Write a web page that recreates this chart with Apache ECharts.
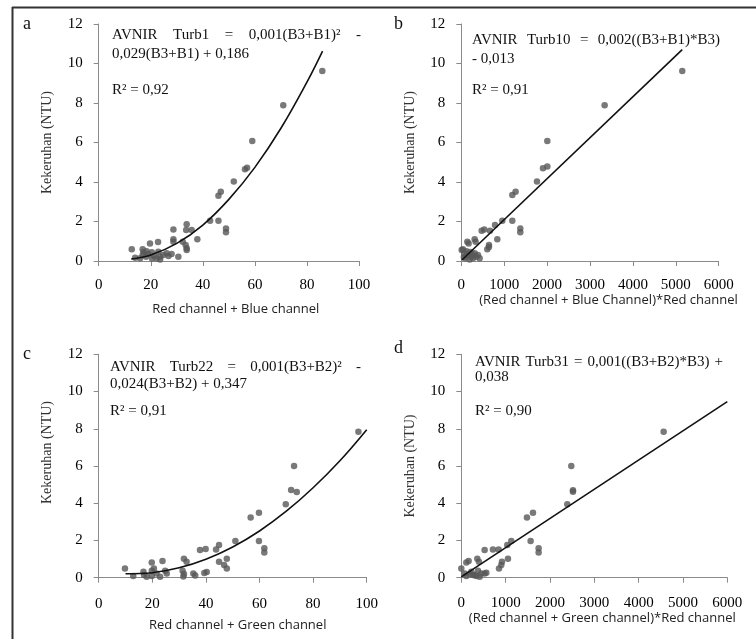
<!DOCTYPE html>
<html><head><meta charset="utf-8">
<script src="https://cdn.jsdelivr.net/npm/echarts@6/dist/echarts.min.js"></script>
<style>html,body{margin:0;padding:0;background:#fff}#c{width:756px;height:639px}</style>
</head><body><div id="c"></div>
<script>
// ---- data ----
const yTicks = [0, 2, 4, 6, 8, 10, 12];
const xTicksSum = [0, 20, 40, 60, 80, 100];
const xTicksProd = [0, 1000, 2000, 3000, 4000, 5000, 6000];

const pointsA = [[12.7,0.59],[14,0.17],[15.9,0.14],[16.9,0.59],[17.2,0.44],[16.9,0.3],[18.4,0.5],[18.2,0.22],[19,0.35],[19.7,0.89],[20.4,0.44],[20.5,0.13],[21.3,0.25],[22.3,0.14],[22.8,0.96],[22.9,0.47],[23.6,0.22],[23.6,0.08],[24.8,0.3],[26.1,0.39],[26.8,0.25],[28,0.35],[28.7,1.6],[28.7,1.1],[28.7,0.98],[30.6,0.22],[32.3,0.98],[33.4,0.81],[33.6,1.57],[33.8,1.86],[33.8,0.64],[33.8,0.56],[35.7,1.57],[37.9,1.1],[42.8,2.04],[46,2.04],[46,3.31],[46.9,3.51],[48.9,1.65],[48.9,1.45],[51.9,4.02],[56.2,4.65],[57,4.72],[59,6.08],[70.9,7.88],[85.9,9.62]];
const pointsB = [[9,0.56],[39,0.59],[60,0.2],[78,0.39],[93,0.14],[120,0.5],[140,0.98],[155,0.3],[171,0.89],[194,0.08],[210,0.45],[233,0.22],[250,0.35],[272,0.14],[311,1.1],[311,0.39],[334,0.98],[350,0.22],[388,0.3],[427,0.14],[475,1.53],[536,1.6],[606,0.59],[645,0.81],[645,0.71],[669,1.53],[786,1.82],[839,1.1],[956,2.04],[1189,2.04],[1189,3.34],[1266,3.51],[1375,1.65],[1375,1.45],[1764,4.02],[1904,4.69],[2005,4.78],[2005,6.08],[3341,7.88],[5151,9.62]];
const pointsC = [[9.8,0.5],[12.9,0.09],[16.7,0.32],[16.9,0.14],[17.9,0.05],[19.8,0.81],[19.8,0.38],[19.8,0.09],[20.6,0.5],[21.6,0.23],[22.9,0.05],[23.8,0.9],[24.8,0.38],[25.4,0.23],[31.3,0.38],[31.8,1.02],[31.8,0.2],[31.6,0.07],[32.8,0.86],[35.3,0.23],[36,0.12],[37.8,1.49],[39.4,0.25],[39.9,1.54],[40.3,0.3],[43.8,1.52],[44.9,1.76],[44.9,0.86],[46.8,0.68],[47.8,1.02],[47.8,0.5],[51,1.97],[56.7,3.24],[59.8,3.49],[59.8,1.97],[61.8,1.58],[61.8,1.36],[69.8,3.94],[71.8,4.71],[73.9,4.6],[72.9,6.0],[96.9,7.84]];
const pointsD = [[0,0.5],[75,0.23],[113,0.81],[113,0.09],[165,0.9],[188,0.2],[226,0.32],[263,0.14],[300,0.14],[338,0.09],[361,1.02],[376,0.38],[398,0.86],[414,0.05],[451,0.23],[526,0.23],[526,1.49],[564,0.27],[714,1.52],[842,1.52],[850,0.5],[902,0.68],[917,0.86],[1038,1.76],[1053,1.02],[1128,1.97],[1481,3.24],[1564,1.97],[1617,3.49],[1744,1.58],[1744,1.36],[2391,3.94],[2481,6.0],[2519,4.7],[2519,4.62],[4564,7.84]];

// trend lines, sampled from the drawn curves
const trendAx = [12.5,20,30,40,50,60,70,80,86];
const trendAy = [0.10,0.30,0.89,1.82,3.12,4.74,6.72,9.06,10.63];
const trendBx = [15,5150];
const trendBy = [0.05,10.7];
const trendCx = [10,20,30,40,50,60,70,80,90,100];
const trendCy = [0.21,0.27,0.53,0.99,1.65,2.51,3.57,4.83,6.28,7.95];
const trendDx = [0,6000];
const trendDy = [0.04,9.46];

const xNames = ['Red channel + Blue channel','(Red channel + Blue Channel)*Red channel','Red channel + Green channel','(Red channel + Green channel)*Red channel'];
const yName = 'Kekeruhan (NTU)';
const panelLetters = ['a','b','c','d'];

// ---- chart ----
const serif = '"Liberation Serif", serif';
const sans = 'Open Sans';
const zip = (xs, ys) => xs.map((x, i) => [x, ys[i]]);

const grids = [
  {left:98.7, top:24, width:260.3, height:237},
  {left:461.3, top:24, width:257.4, height:237},
  {left:98.7, top:354.3, width:268, height:223.4},
  {left:461.3, top:354.3, width:266, height:223.4}
];
const xCfg = [
  {ticks:xTicksSum, gap:42, padL:14, margin:17},
  {ticks:xTicksProd, gap:29, padL:37, margin:17},
  {ticks:xTicksSum, gap:41, padL:10, margin:19},
  {ticks:xTicksProd, gap:33, padL:16, margin:18}
];
const yPad = [[0,0,0,0],[0,0,0,0],[0,0,0,27],[0,0,0,0]];

const axisLine = {lineStyle:{color:'#8a8a8a', width:1}};
const axisTick = {length:5, lineStyle:{color:'#8a8a8a'}};
const plain = v => String(v);

const xAxes = xCfg.map((c, i) => ({
  type:'value', gridIndex:i, min:c.ticks[0], max:c.ticks[c.ticks.length-1],
  interval:c.ticks[1]-c.ticks[0], splitLine:{show:false},
  axisLine, axisTick,
  axisLabel:{fontFamily:serif, fontSize:15, color:'#000', margin:c.margin, formatter:plain},
  name:xNames[i], nameLocation:'middle', nameGap:c.gap,
  nameTextStyle:{fontFamily:sans, fontSize:13, color:'#222', padding:[0,0,0,c.padL]}
}));
const yAxes = grids.map((g, i) => ({
  type:'value', gridIndex:i, min:yTicks[0], max:yTicks[yTicks.length-1],
  interval:yTicks[1]-yTicks[0], splitLine:{show:false},
  axisLine:{show:true, lineStyle:{color:'#8a8a8a', width:1}}, axisTick:{show:true, length:5, lineStyle:{color:'#8a8a8a'}},
  axisLabel:{fontFamily:serif, fontSize:15, color:'#000', margin:16, formatter:plain},
  name:yName, nameLocation:'middle', nameGap:44,
  nameTextStyle:{fontFamily:serif, fontSize:14, color:'#333', padding:yPad[i]}
}));

const pts = [pointsA, pointsB, pointsC, pointsD];
const trends = [zip(trendAx,trendAy), zip(trendBx,trendBy), zip(trendCx,trendCy), zip(trendDx,trendDy)];
const series = [];
pts.forEach((p, i) => {
  series.push({type:'scatter', xAxisIndex:i, yAxisIndex:i, data:p, symbolSize:6.5,
    itemStyle:{color:'#585858'}, silent:true, z:2});
  series.push({type:'line', xAxisIndex:i, yAxisIndex:i, data:trends[i], smooth:i===0||i===2 ? 0.4 : false,
    showSymbol:false, lineStyle:{color:'#111', width:1.6}, silent:true, z:3});
});

const FONT = '15px "Liberation Serif"';
const measureCtx = document.createElement('canvas').getContext('2d');
function textW(t, font) { measureCtx.font = font || FONT; return measureCtx.measureText(t).width; }

function txt(x, y, text, size) {
  return {type:'text', x:x, y:y, silent:true,
    style:{text:text, font:(size||15)+'px "Liberation Serif"', fill:'#111', verticalAlign:'middle', align:'left'}};
}
// a justified first line: words spread between x0 and x1
function justified(x0, x1, y, words) {
  const ws = words.map(w => textW(w));
  const total = ws.reduce((s, w) => s + w, 0);
  const gap = (x1 - x0 - total) / (words.length - 1);
  let x = x0;
  return words.map((w, i) => { const el = txt(x, y, w); x += ws[i] + gap; return el; });
}

const graphics = [
  {type:'line', shape:{x1:12, y1:7.5, x2:756, y2:7.5}, style:{stroke:'#333', lineWidth:2}},
  {type:'line', shape:{x1:12.5, y1:7, x2:12.5, y2:639}, style:{stroke:'#333', lineWidth:2}},
  txt(23, 24, panelLetters[0], 18), txt(394, 24, panelLetters[1], 18),
  txt(23, 354, panelLetters[2], 18), txt(394, 348, panelLetters[3], 18),
  // a
  ...justified(112, 361, 35, ['AVNIR','Turb1','=','0,001(B3+B1)²','-']),
  txt(112, 54, '0,029(B3+B1) + 0,186'),
  txt(112, 90, 'R² = 0,92'),
  // b
  ...justified(472, 720, 40, ['AVNIR','Turb10','=','0,002((B3+B1)*B3)']),
  txt(472, 59, '- 0,013'),
  txt(472, 90, 'R² = 0,91'),
  // c
  ...justified(110, 361, 367, ['AVNIR','Turb22','=','0,001(B3+B2)²','-']),
  txt(110, 384, '0,024(B3+B2) + 0,347'),
  txt(110, 411, 'R² = 0,91'),
  // d
  ...justified(475, 723, 362, ['AVNIR','Turb31','=','0,001((B3+B2)*B3)','+']),
  txt(475, 377, '0,038'),
  txt(475, 411, 'R² = 0,90')
];

const chart = echarts.init(document.getElementById('c'), null, {renderer:'canvas'});
chart.setOption({
  animation:false, backgroundColor:'#fff',
  grid:grids, xAxis:xAxes, yAxis:yAxes, series:series, graphic:graphics
});
</script></body></html>
